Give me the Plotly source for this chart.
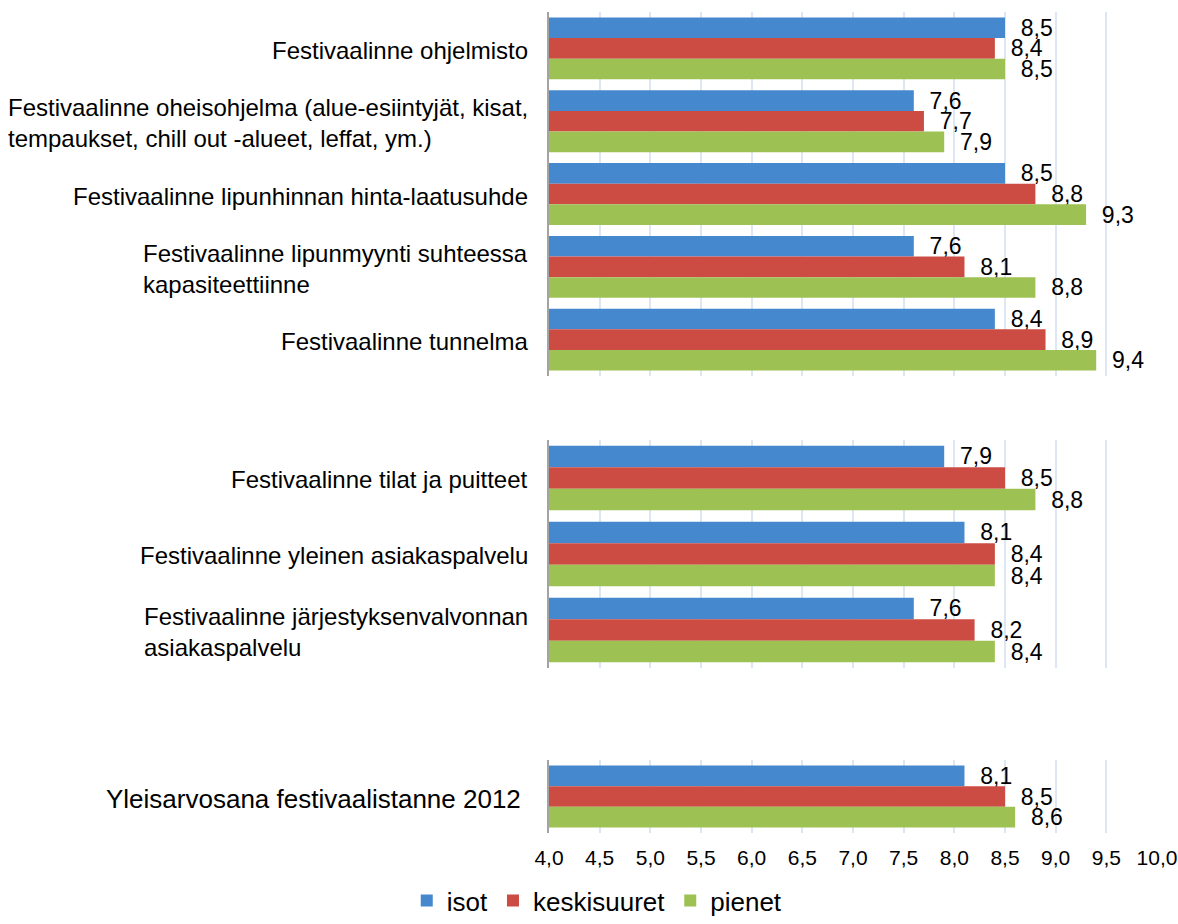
import plotly.graph_objects as go
from plotly.subplots import make_subplots

# --- data -------------------------------------------------------------
series_names = ["isot", "keskisuuret", "pienet"]

categories_top = [
    "Festivaalinne ohjelmisto",
    "Festivaalinne oheisohjelma (alue-esiintyjät, kisat,<br>tempaukset, chill out -alueet, leffat, ym.)",
    "Festivaalinne lipunhinnan hinta-laatusuhde",
    "Festivaalinne lipunmyynti suhteessa<br>kapasiteettiinne",
    "Festivaalinne tunnelma",
]
isot_top = [8.5, 7.6, 8.5, 7.6, 8.4]
keskisuuret_top = [8.4, 7.7, 8.8, 8.1, 8.9]
pienet_top = [8.5, 7.9, 9.3, 8.8, 9.4]

categories_mid = [
    "Festivaalinne tilat ja puitteet",
    "Festivaalinne yleinen asiakaspalvelu",
    "Festivaalinne järjestyksenvalvonnan<br>asiakaspalvelu",
]
isot_mid = [7.9, 8.1, 7.6]
keskisuuret_mid = [8.5, 8.4, 8.2]
pienet_mid = [8.8, 8.4, 8.4]

categories_bot = ["Yleisarvosana festivaalistanne 2012"]
isot_bot = [8.1]
keskisuuret_bot = [8.5]
pienet_bot = [8.6]

tick_values = [4.0, 4.5, 5.0, 5.5, 6.0, 6.5, 7.0, 7.5, 8.0, 8.5, 9.0, 9.5, 10.0]
tick_labels = ["4,0", "4,5", "5,0", "5,5", "6,0", "6,5", "7,0", "7,5",
               "8,0", "8,5", "9,0", "9,5", "10,0"]

# --- styling ----------------------------------------------------------
FONT = "Liberation Sans, Arial, sans-serif"
colors = {"isot": "#4688cd", "keskisuuret": "#cc4c44", "pienet": "#9ec153"}
GRID = "#dde7f3"
AXIS = "#a3a3a3"


def fmt(v):
    # Finnish decimal comma, padded away from the bar end
    return "\u00a0\u00a0" + f"{v:.1f}".replace(".", ",")


panels = [
    (categories_top, [isot_top, keskisuuret_top, pienet_top]),
    (categories_mid, [isot_mid, keskisuuret_mid, pienet_mid]),
    (categories_bot, [isot_bot, keskisuuret_bot, pienet_bot]),
]

fig = make_subplots(rows=3, cols=1, shared_xaxes=True)

for row, (cats, values) in enumerate(panels, start=1):
    for name, vals in zip(series_names, values):
        fig.add_trace(
            go.Bar(
                y=cats,
                x=vals,
                orientation="h",
                name=name,
                legendgroup=name,
                showlegend=(row == 1),
                marker=dict(color=colors[name], line=dict(width=0)),
                text=[fmt(v) for v in vals],
                textposition="outside",
                constraintext="none",
                cliponaxis=False,
                textfont=dict(family=FONT, size=23, color="#000000"),
                hoverinfo="x+y+name",
            ),
            row=row,
            col=1,
        )

# category labels: block right-aligned at the axis, lines left-aligned
for row, (cats, _) in enumerate(panels, start=1):
    yref = "y" if row == 1 else f"y{row}"
    size = 26 if row == 3 else 24
    for c in cats:
        fig.add_annotation(
            x=-0.031 if row < 3 else -0.043,
            y=c,
            xref="paper",
            yref=yref,
            text=c,
            showarrow=False,
            xanchor="right",
            yanchor="middle",
            align="left",
            yshift=-2,
            font=dict(family=FONT, size=size, color="#000000"),
        )

domains = {1: [0.5566, 1.0], 2: [0.2010, 0.4787], 3: [0.0, 0.0889]}
for row in (1, 2, 3):
    suffix = "" if row == 1 else str(row)
    fig.layout["yaxis" + suffix].update(
        domain=domains[row],
        autorange="reversed",
        showticklabels=False,
        ticks="",
        showgrid=False,
        showline=True,
        linecolor=AXIS,
        linewidth=2,
        zeroline=False,
        automargin=False,
    )
    fig.layout["xaxis" + suffix].update(
        range=[4.0, 10.0],
        tickvals=tick_values,
        ticktext=tick_labels,
        showgrid=True,
        gridcolor=GRID,
        gridwidth=2,
        showline=False,
        zeroline=False,
        ticks="",
        showticklabels=(row == 3),
        tickfont=dict(family=FONT, size=21, color="#000000"),
        ticklabelstandoff=10,
        automargin=False,
    )

fig.update_layout(
    width=1178,
    height=924,
    margin=dict(l=549, r=21, t=12, b=91, autoexpand=False),
    paper_bgcolor="#ffffff",
    plot_bgcolor="#ffffff",
    barmode="group",
    bargap=0.15,
    bargroupgap=0.0,
    font=dict(family=FONT, color="#000000"),
    legend=dict(
        orientation="h",
        xref="container",
        yref="container",
        x=0.507,
        xanchor="center",
        y=0.0,
        yanchor="bottom",
        font=dict(family=FONT, size=26, color="#000000"),
        itemclick=False,
        bgcolor="rgba(0,0,0,0)",
        traceorder="normal",
    ),
    showlegend=True,
)

fig.write_html("out.html")
